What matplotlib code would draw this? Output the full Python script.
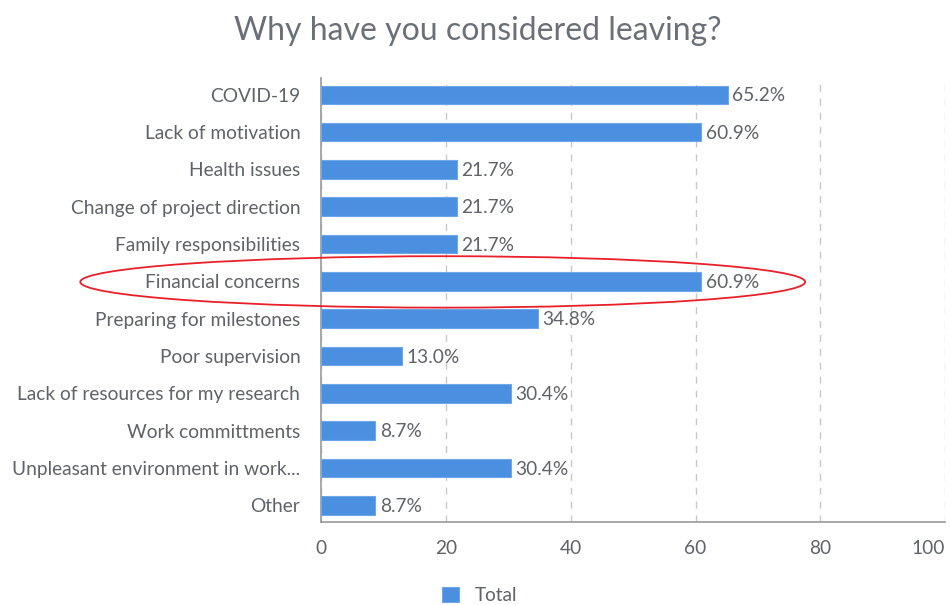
import matplotlib.pyplot as plt
from matplotlib.patches import Ellipse

categories = [
    'COVID-19', 'Lack of motivation', 'Health issues',
    'Change of project direction', 'Family responsibilities',
    'Financial concerns', 'Preparing for milestones', 'Poor supervision',
    'Lack of resources for my research', 'Work committments',
    'Unpleasant environment in work...', 'Other',
]
values = [65.2, 60.9, 21.7, 21.7, 21.7, 60.9, 34.8, 13.0, 30.4, 8.7, 30.4, 8.7]
x_ticks = [0, 20, 40, 60, 80, 100]

plt.rcParams['font.family'] = ['Lato', 'DejaVu Sans']
text_grey = '#5f6368'
bar_blue = '#4a8fe0'

fig = plt.figure(figsize=(9.5, 6.05), dpi=100)
ax = fig.add_axes([0.338, 0.137, 0.657, 0.734])

y = list(range(len(categories)))
bars = ax.barh(y, values, height=0.5, color=bar_blue, edgecolor='#6fa6e8',
               linewidth=0.8, label='Total', zorder=3)
for yi, v in zip(y, values):
    ax.text(v + 0.7, yi + 0.03, f'{v:.1f}%', va='center', ha='left',
            fontsize=13.8, color=text_grey, zorder=4)

ax.set_xlim(0, 100)
ax.set_ylim(len(categories) - 0.55, -0.45)
ax.set_yticks(y)
ax.set_yticklabels(categories)
ax.set_xticks(x_ticks)
ax.tick_params(axis='y', length=0, pad=15, labelsize=13.8, labelcolor=text_grey)
ax.tick_params(axis='x', length=0, pad=13, labelsize=13.8, labelcolor=text_grey)
# last tick label kept inside the figure edge
ax.get_xticklabels()[-1].set_horizontalalignment('right')

ax.grid(axis='x', linestyle=(0, (5, 5)), color='#c8c8c8', linewidth=1, zorder=0)
for side in ['top', 'right']:
    ax.spines[side].set_visible(False)
for side in ['left', 'bottom']:
    ax.spines[side].set_color('#9a9a9a')
    ax.spines[side].set_linewidth(1.2)

fig.text(0.503, 0.948, 'Why have you considered leaving?', ha='center',
         va='center', fontsize=23, color='#6b7078')

fig.legend(handles=[bars], labels=['Total'], loc='center',
           bbox_to_anchor=(0.505, 0.016), frameon=False, fontsize=13.7,
           labelcolor=text_grey, handlelength=0.9, handleheight=0.9,
           handletextpad=0.8)

# red highlight ellipse around "Financial concerns"
fig.patches.append(Ellipse((0.466, 0.534), 0.763, 0.085,
                           transform=fig.transFigure, fill=False,
                           edgecolor='#e8202a', linewidth=1.3, zorder=10))

fig.savefig('out.png', dpi=100)
